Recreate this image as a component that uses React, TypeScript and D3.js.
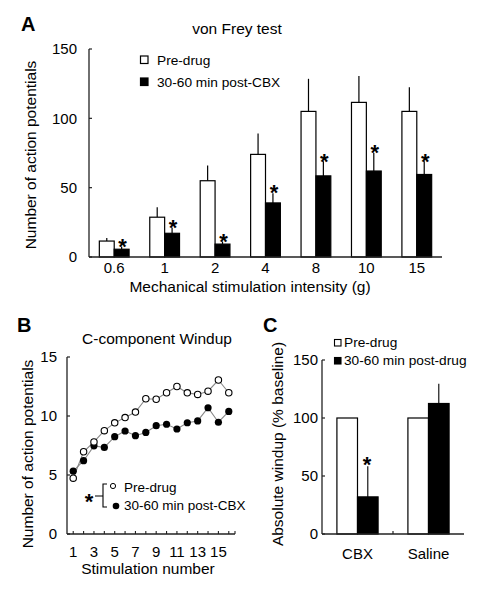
import React from "react";
import * as d3 from "d3";

// ---------- Panel A data ----------
const forceCats = ["0.6", "1", "2", "4", "8", "10", "15"];
const aPre = [11.5, 28.7, 55, 74, 105, 111.5, 105];
const aPreSem = [2.2, 7.1, 11, 15, 23.5, 19, 17.5];
const aPost = [5.6, 17.1, 9.3, 39, 58.5, 62, 59.5];
const aPostSem = [1.8, 4, 1.8, 7, 10.5, 13, 9.5];
const aTicks = [0, 50, 100, 150];

// ---------- Panel B data ----------
const stimNums = [1, 2, 3, 4, 5, 6, 7, 8, 9, 10, 11, 12, 13, 14, 15, 16];
const stimLabels = [1, 3, 5, 7, 9, 11, 13, 15];
const bPre = [4.73, 6.97, 7.8, 8.76, 9.42, 9.87, 10.33, 11.46, 11.42, 11.97, 12.5, 11.96, 11.83, 12.1, 13.05, 11.97];
const bPost = [5.32, 6.21, 7.47, 7.34, 8.25, 8.73, 8.33, 8.61, 9.18, 9.3, 8.9, 9.43, 9.58, 10.7, 9.47, 10.39];
const bTicks = [0, 5, 10, 15];

// ---------- Panel C data ----------
const cGroups = ["CBX", "Saline"];
const cPre = [100, 100];
const cPost = [32, 112.5];
const cPostSem = [26.3, 17];
const cTicks = [0, 50, 100, 150];

const FONT = "'Liberation Sans', Arial, Helvetica, sans-serif";

function Star({ x, y }: { x: number; y: number }) {
  // y = visual center of asterisk
  const fs = 22;
  return (
    <text x={x} y={y + 0.6 * fs} fontSize={fs} fontWeight="bold" textAnchor="middle" fontFamily={FONT}>
      *
    </text>
  );
}

function PanelA() {
  const x = d3.scaleBand<string>().domain(forceCats).range([89, 442]).padding(0);
  const y = d3.scaleLinear().domain([0, 150]).range([257, 49]);
  const bw = x.bandwidth() * 0.295;
  const c = (d: string) => (x(d) as number) + x.bandwidth() / 2;
  return (
    <g>
      <text x={21} y={31} fontSize={20} fontWeight="bold" fontFamily={FONT}>A</text>
      <text x={237} y={34} fontSize={15.5} textAnchor="middle" fontFamily={FONT}>von Frey test</text>
      {/* bars */}
      {forceCats.map((d, i) => (
        <g key={d}>
          <line x1={c(d) - bw / 2} x2={c(d) - bw / 2} y1={y(aPre[i])} y2={y(aPre[i] + aPreSem[i])} stroke="#000" strokeWidth={1.2} />
          <rect x={c(d) - bw} y={y(aPre[i])} width={bw} height={y(0) - y(aPre[i])} fill="#fff" stroke="#000" strokeWidth={1.2} />
          <line x1={c(d) + bw / 2} x2={c(d) + bw / 2} y1={y(aPost[i])} y2={y(aPost[i] + aPostSem[i])} stroke="#000" strokeWidth={1.2} />
          <rect x={c(d)} y={y(aPost[i])} width={bw} height={y(0) - y(aPost[i])} fill="#000" stroke="#000" strokeWidth={1.2} />
          <Star x={c(d) + bw / 2 + 1} y={y(aPost[i] + aPostSem[i]) - 6} />
        </g>
      ))}
      {/* axes */}
      <line x1={89} x2={89} y1={y(150)} y2={y(0)} stroke="#222" strokeWidth={1.3} />
      <line x1={89} x2={442} y1={y(0)} y2={y(0)} stroke="#222" strokeWidth={1.3} />
      {aTicks.map((t) => (
        <g key={t}>
          <line x1={89} x2={92} y1={y(t)} y2={y(t)} stroke="#222" strokeWidth={1.2} />
          <text x={77} y={y(t)} dy="0.36em" fontSize={15} textAnchor="end" fontFamily={FONT}>{t}</text>
        </g>
      ))}
      {forceCats.map((d) => (
        <text key={d} x={c(d)} y={273} fontSize={15} textAnchor="middle" fontFamily={FONT}>{d}</text>
      ))}
      <text x={250} y={291.5} fontSize={15.5} textAnchor="middle" fontFamily={FONT}>Mechanical stimulation intensity (g)</text>
      <text transform={`translate(36,155) rotate(-90)`} fontSize={15.5} textAnchor="middle" fontFamily={FONT}>Number of action potentials</text>
      {/* legend */}
      <rect x={140.5} y={56} width={7.5} height={7.5} fill="#fff" stroke="#000" strokeWidth={1.2} />
      <text x={157} y={65} fontSize={13.7} fontFamily={FONT}>Pre-drug</text>
      <rect x={140.5} y={78} width={7.5} height={7.5} fill="#000" stroke="#000" strokeWidth={1.2} />
      <text x={157} y={86.5} fontSize={13.7} fontFamily={FONT}>30-60 min post-CBX</text>
    </g>
  );
}

function PanelB() {
  const x = d3.scaleLinear().domain([0.4, 16.6]).range([67, 235]);
  const y = d3.scaleLinear().domain([0, 15]).range([534, 357]);
  const line = d3
    .line<number>()
    .x((_, i) => x(stimNums[i]))
    .y((v) => y(v));
  return (
    <g>
      <text x={17} y={332} fontSize={20} fontWeight="bold" fontFamily={FONT}>B</text>
      <text x={157} y={344} fontSize={15.5} textAnchor="middle" fontFamily={FONT}>C-component Windup</text>
      <path d={line(bPre) as string} fill="none" stroke="#888" strokeWidth={1.1} />
      <path d={line(bPost) as string} fill="none" stroke="#888" strokeWidth={1.1} />
      {bPost.map((v, i) => (
        <circle key={"p" + i} cx={x(stimNums[i])} cy={y(v)} r={3.6} fill="#000" />
      ))}
      {bPre.map((v, i) => (
        <circle key={"o" + i} cx={x(stimNums[i])} cy={y(v)} r={3.2} fill="#fff" stroke="#000" strokeWidth={1.1} />
      ))}
      {/* axes */}
      <line x1={67} x2={67} y1={y(15)} y2={y(0)} stroke="#222" strokeWidth={1.3} />
      <line x1={67} x2={235} y1={y(0)} y2={y(0)} stroke="#222" strokeWidth={1.3} />
      {bTicks.map((t) => (
        <g key={t}>
          <line x1={67} x2={70} y1={y(t)} y2={y(t)} stroke="#222" strokeWidth={1.2} />
          <text x={57} y={y(t)} dy="0.36em" fontSize={15} textAnchor="end" fontFamily={FONT}>{t}</text>
        </g>
      ))}
      {stimNums.map((s) => (
        <line key={s} x1={x(s)} x2={x(s)} y1={y(0)} y2={y(0) - 3} stroke="#222" strokeWidth={1.1} />
      ))}
      <line x1={235} x2={235} y1={y(0)} y2={y(0) - 3} stroke="#222" strokeWidth={1.1} />
      {stimLabels.map((s) => (
        <text key={s} x={x(s)} y={557} fontSize={15} textAnchor="middle" fontFamily={FONT}>{s}</text>
      ))}
      <text x={148} y={574} fontSize={15.5} textAnchor="middle" fontFamily={FONT}>Stimulation number</text>
      <text transform={`translate(33,454) rotate(-90)`} fontSize={15.5} textAnchor="middle" fontFamily={FONT}>Number of action potentials</text>
      {/* legend */}
      <Star x={89} y={496} />
      <path d="M95,496 H103 M107,484 H103 V507 H107" fill="none" stroke="#000" strokeWidth={1.1} />
      <circle cx={113} cy={486} r={2.6} fill="#fff" stroke="#000" strokeWidth={1} />
      <text x={124} y={492} fontSize={13.5} fontFamily={FONT}>Pre-drug</text>
      <circle cx={116} cy={506} r={3.3} fill="#000" />
      <text x={124} y={510} fontSize={13.5} fontFamily={FONT}>30-60 min post-CBX</text>
    </g>
  );
}

function PanelC() {
  const x = d3.scaleBand<string>().domain(cGroups).range([322, 464]).padding(0);
  const y = d3.scaleLinear().domain([0, 150]).range([534, 360]);
  const bw = x.bandwidth() * 0.29;
  const c = (d: string) => (x(d) as number) + x.bandwidth() / 2;
  return (
    <g>
      <text x={263} y={332} fontSize={20} fontWeight="bold" fontFamily={FONT}>C</text>
      {cGroups.map((g, i) => (
        <g key={g}>
          <rect x={c(g) - bw} y={y(cPre[i])} width={bw} height={y(0) - y(cPre[i])} fill="#fff" stroke="#000" strokeWidth={1.2} />
          <line x1={c(g) + bw / 2} x2={c(g) + bw / 2} y1={y(cPost[i])} y2={y(cPost[i] + cPostSem[i])} stroke="#000" strokeWidth={1.1} />
          <rect x={c(g)} y={y(cPost[i])} width={bw} height={y(0) - y(cPost[i])} fill="#000" stroke="#000" strokeWidth={1.2} />
        </g>
      ))}
      <Star x={367} y={459} />
      {/* axes */}
      <line x1={322} x2={322} y1={y(150)} y2={y(0)} stroke="#222" strokeWidth={1.3} />
      <line x1={322} x2={464} y1={y(0)} y2={y(0)} stroke="#222" strokeWidth={1.3} />
      <line x1={393} x2={393} y1={y(0)} y2={y(0) - 3} stroke="#222" strokeWidth={1.2} />
      {cTicks.map((t) => (
        <g key={t}>
          <line x1={322} x2={325} y1={y(t)} y2={y(t)} stroke="#222" strokeWidth={1.2} />
          <text x={318} y={y(t)} dy="0.36em" fontSize={15} textAnchor="end" fontFamily={FONT}>{t}</text>
        </g>
      ))}
      {cGroups.map((g) => (
        <text key={g} x={c(g)} y={559} fontSize={15} textAnchor="middle" fontFamily={FONT}>{g}</text>
      ))}
      <text transform={`translate(283,444) rotate(-90)`} fontSize={15.5} textAnchor="middle" fontFamily={FONT}>Absolute windup (% baseline)</text>
      {/* legend */}
      <rect x={334.5} y={339.5} width={6.5} height={6.5} fill="#fff" stroke="#000" strokeWidth={1.1} />
      <text x={344} y={347} fontSize={13.7} fontFamily={FONT}>Pre-drug</text>
      <rect x={334.5} y={357.5} width={6.5} height={6.5} fill="#000" stroke="#000" strokeWidth={1.1} />
      <text x={344} y={365} fontSize={13.7} fontFamily={FONT}>30-60 min post-drug</text>
    </g>
  );
}

export default function App() {
  return (
    <svg
      width={490}
      height={600}
      viewBox="0 0 490 600"
      style={{ position: "absolute", left: 0, top: 0, background: "#fff" }}
    >
      <rect x={0} y={0} width={490} height={600} fill="#fff" />
      <PanelA />
      <PanelB />
      <PanelC />
    </svg>
  );
}
